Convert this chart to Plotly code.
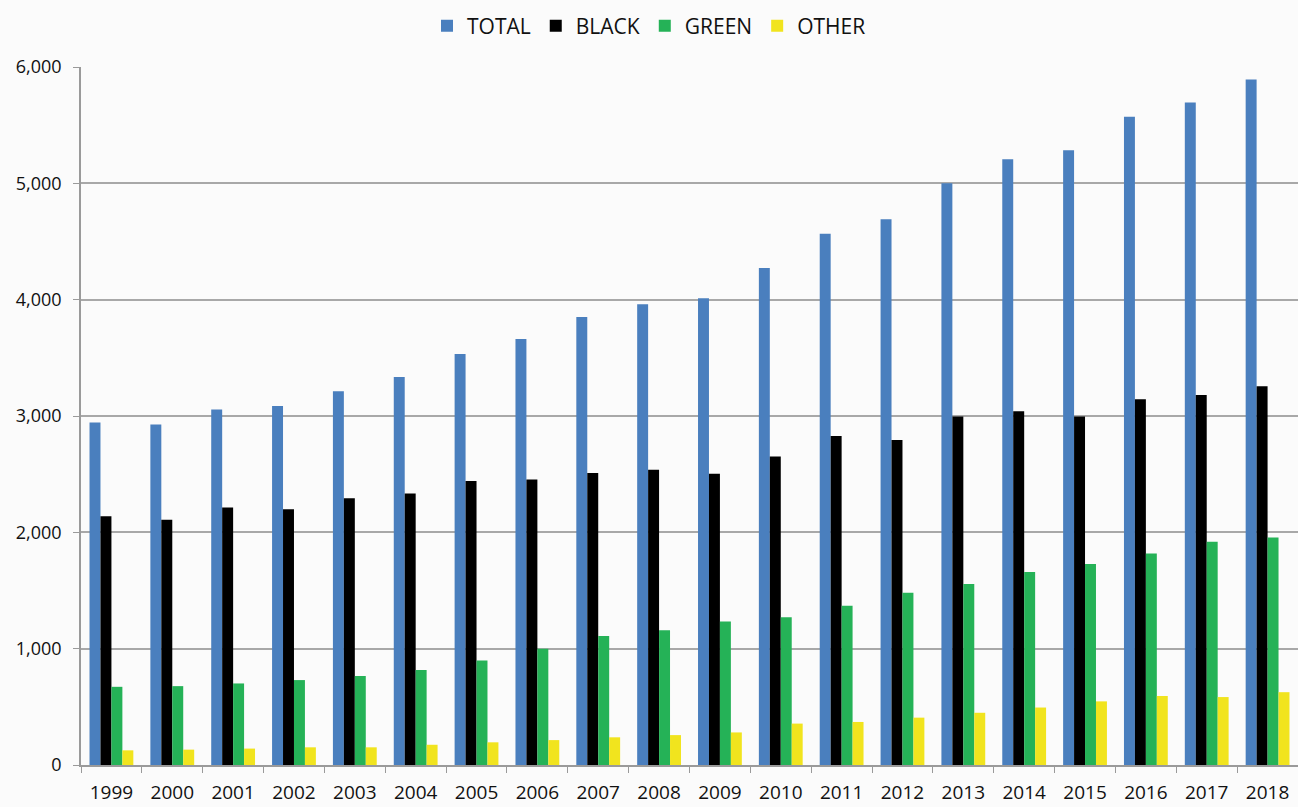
import plotly.graph_objects as go

years = [str(y) for y in range(1999, 2019)]
total = [2945, 2928, 3055, 3086, 3213, 3335, 3533, 3661, 3852, 3961, 4013, 4273, 4566, 4691, 5000, 5206, 5284, 5572, 5695, 5893]
black = [2138, 2109, 2213, 2198, 2293, 2333, 2441, 2454, 2510, 2539, 2503, 2651, 2829, 2794, 2995, 3041, 2996, 3144, 3181, 3255]
green = [672, 678, 701, 730, 764, 816, 898, 1000, 1109, 1158, 1234, 1270, 1368, 1481, 1556, 1658, 1728, 1819, 1918, 1955]
other = [126, 132, 141, 152, 152, 174, 195, 214, 238, 257, 280, 356, 370, 407, 449, 494, 547, 593, 584, 626]

series = [("TOTAL", total, "#4a7fbe"), ("BLACK", black, "#000000"),
          ("GREEN", green, "#25b257"), ("OTHER", other, "#f1e41e")]

fig = go.Figure()
for name, vals, col in series:
    fig.add_trace(go.Bar(x=years, y=vals, name=name, marker=dict(color=col, line=dict(width=0))))

fig.update_layout(
    width=1298, height=807,
    barmode="group", bargap=0.28, bargroupgap=0,
    paper_bgcolor="#fbfbfb", plot_bgcolor="#fbfbfb",
    margin=dict(l=81, r=0, t=67, b=42, autoexpand=False),
    font=dict(family="Open Sans, DejaVu Sans, sans-serif", color="#111111"),
    legend=dict(orientation="h", x=0.5, xanchor="center", y=0.993, yanchor="top",
                yref="container", xref="container", font=dict(size=21, color="#111111"),
                bgcolor="rgba(0,0,0,0)", itemsizing="constant", tracegroupgap=0),
    showlegend=True,
)
fig.update_xaxes(type="category", showgrid=False, showline=True, linecolor="#9a9a9a", linewidth=1.5,
                 ticks="outside", tickson="boundaries", ticklen=6, tickcolor="#9a9a9a",
                 tickfont=dict(size=19), ticklabelstandoff=9, automargin=False)
fig.update_yaxes(range=[0, 6000], tickvals=[0, 1000, 2000, 3000, 4000, 5000, 6000],
                 ticktext=["0", "1,000", "2,000", "3,000", "4,000", "5,000", "6,000"],
                 showgrid=True, gridcolor="#a8a8a8", gridwidth=1.5,
                 showline=True, linecolor="#9a9a9a", linewidth=1.5,
                 ticks="outside", ticklen=6, tickcolor="#9a9a9a", zeroline=False,
                 tickfont=dict(size=18), ticklabelstandoff=8, automargin=False)

fig.write_html("out.html", config={"displayModeBar": False},
               post_script="document.body.style.margin='0';document.body.style.overflow='hidden';")
